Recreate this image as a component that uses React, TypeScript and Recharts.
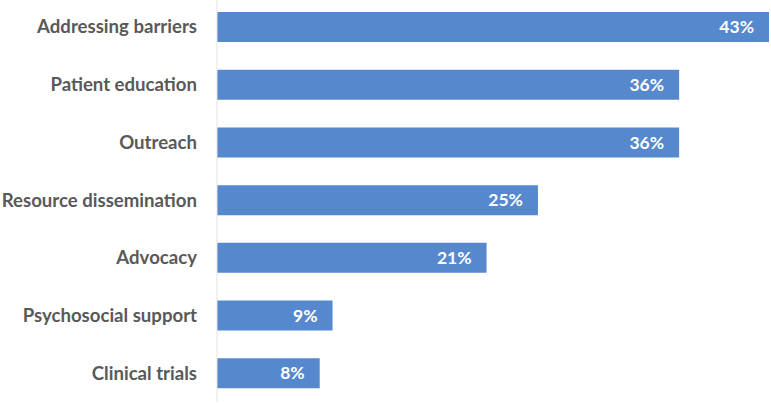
import React from 'react';
import { BarChart, Bar, XAxis, YAxis, LabelList } from 'recharts';

const categories = [
  'Addressing barriers',
  'Patient education',
  'Outreach',
  'Resource dissemination',
  'Advocacy',
  'Psychosocial support',
  'Clinical trials',
];
const shares = [43, 36, 36, 25, 21, 9, 8];

const data = categories.map((name, i) => ({ name, value: shares[i] }));

const App: React.FC = () => {
  return (
    <div style={{ position: 'absolute', left: 0, top: 0, width: 771, height: 403, background: '#fff' }}>
      <BarChart
        width={771}
        height={403}
        data={data}
        layout="vertical"
        margin={{ top: -2, right: 2, bottom: 1, left: 0 }}
        barSize={30}
      >
        <XAxis type="number" domain={[0, 43]} hide />
        <YAxis
          type="category"
          dataKey="name"
          width={217}
          axisLine={{ stroke: '#e3e3e3', strokeWidth: 1 }}
          tickLine={false}
          tickSize={0}
          tickMargin={20}
          interval={0}
          tick={{ fill: '#595959', fontSize: 18.6, fontWeight: 700, fontFamily: 'Lato, sans-serif' }}
        />
        <Bar dataKey="value" fill="#5588cc" isAnimationActive={false}>
          <LabelList
            dataKey="value"
            position="insideRight"
            offset={15}
            formatter={(v: number) => `${v}%`}
            style={{ fill: '#ffffff', fontSize: 17.5, fontWeight: 700, fontFamily: 'Lato, sans-serif' }}
          />
        </Bar>
      </BarChart>
    </div>
  );
};

export default App;
